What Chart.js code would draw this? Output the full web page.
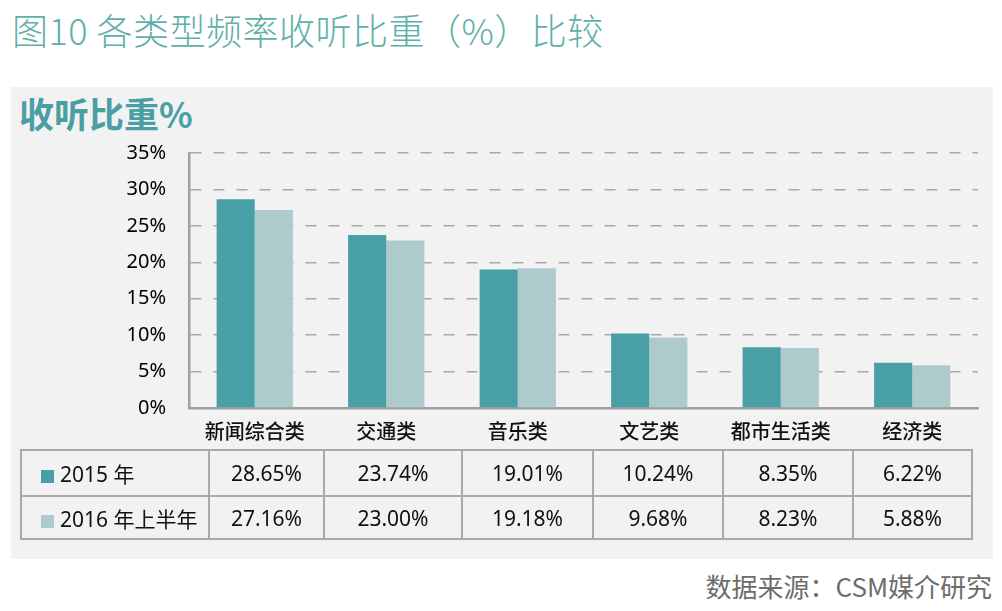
<!DOCTYPE html>
<html>
<head>
<meta charset="utf-8">
<script src="https://cdn.jsdelivr.net/npm/chart.js@4"></script>
<style>
  body { margin: 0; width: 1002px; height: 611px; background: #fff; position: relative; overflow: hidden;
         font-family: "Noto Sans", "Noto Sans CJK SC", sans-serif; }
  .title { position: absolute; left: 12px; top: 3px; font-size: 36px; font-weight: 300; color: #5fb0a8;
           font-family: "Noto Sans CJK SC", sans-serif; white-space: nowrap; letter-spacing: 0.5px; }
  .panel { position: absolute; left: 11px; top: 87px; width: 982px; height: 472px; background: #f2f2f2; }
  .ylabel { position: absolute; left: 19px; top: 87px; font-size: 35px; font-weight: 700; color: #4a9fa5;
            font-family: "Noto Sans CJK SC", sans-serif; white-space: nowrap; }
  #wrap { position: absolute; left: 0; top: 0; width: 1002px; height: 450px; }
  table { position: absolute; left: 20px; top: 449px; width: 951px; border-collapse: collapse; table-layout: fixed;
          font-size: 21px; color: #111; }
  td { border: 2.5px solid #a9a9a9; text-align: center; padding: 0; white-space: nowrap; }
  tr.r1 td { height: 44px; }
  tr.r2 td { height: 41px; }
  td.leg { text-align: left; padding-left: 19px; }
  .sw { display: inline-block; width: 13px; height: 13px; margin-right: 6px; vertical-align: -1px; }
  .source { position: absolute; right: 10px; top: 567px; font-size: 26px; color: #6d6d6d;
            font-family: "Noto Sans CJK SC", sans-serif; white-space: nowrap; }
</style>
</head>
<body>
<div class="title">图10 各类型频率收听比重（%）比较</div>
<div class="panel"></div>
<div class="ylabel">收听比重%</div>
<div id="wrap"><canvas id="myChart" width="1002" height="450"></canvas></div>
<table id="dataTable"></table>
<div class="source">数据来源：CSM媒介研究</div>

<script>
const categories = ["新闻综合类", "交通类", "音乐类", "文艺类", "都市生活类", "经济类"];
const seriesNames = ["2015 年", "2016 年上半年"];
const values2015 = [28.65, 23.74, 19.01, 10.24, 8.35, 6.22];
const values2016h1 = [27.16, 23.00, 19.18, 9.68, 8.23, 5.88];
const yTicks = [0, 5, 10, 15, 20, 25, 30, 35];

const colors = ["#48a0a6", "#adcacc"];
const colWidths = [188, 115, 138, 131, 130, 130, 119];

// data table under the chart
const table = document.getElementById("dataTable");
const colgroup = document.createElement("colgroup");
colWidths.forEach(w => {
  const col = document.createElement("col");
  col.style.width = w + "px";
  colgroup.appendChild(col);
});
table.appendChild(colgroup);

[values2015, values2016h1].forEach((vals, i) => {
  const tr = document.createElement("tr");
  tr.className = "r" + (i + 1);
  const lead = document.createElement("td");
  lead.className = "leg";
  lead.innerHTML = `<span class="sw" style="background:${colors[i]}"></span>${seriesNames[i]}`;
  tr.appendChild(lead);
  vals.forEach(v => {
    const td = document.createElement("td");
    td.textContent = v.toFixed(2) + "%";
    tr.appendChild(td);
  });
  table.appendChild(tr);
});

/*        *****chart*****       */
const ctx = document.getElementById("myChart").getContext("2d");

const myChart = new Chart(ctx, {
  type: "bar",
  data: {
    labels: categories,
    datasets: [
      { label: seriesNames[0], data: values2015, backgroundColor: colors[0] },
      { label: seriesNames[1], data: values2016h1, backgroundColor: colors[1] }
    ]
  },
  options: {
    responsive: false,
    animation: false,
    categoryPercentage: 0.58,
    barPercentage: 1.0,
    layout: { padding: { top: 153, right: 24, left: 0, bottom: 0 } },
    plugins: { legend: { display: false }, tooltip: { enabled: false } },
    scales: {
      x: {
        grid: { display: false, drawTicks: false },
        border: { color: "#a0a0a0", width: 2.5 },
        ticks: {
          color: "#111",
          padding: 11,
          font: { family: "'Noto Sans CJK SC'", size: 20, weight: 500 }
        },
        afterFit: scale => { scale.height = 42; }
      },
      y: {
        min: 0,
        max: 35,
        afterBuildTicks: scale => { scale.ticks = yTicks.map(v => ({ value: v })); },
        grid: { color: "#a9a9a9", lineWidth: 1.5, drawTicks: false },
        border: { color: "#a0a0a0", width: 2.5, dash: [11, 12] },
        ticks: {
          color: "#000",
          padding: 23,
          font: { family: "'Noto Sans'", size: 20 },
          callback: v => v + "%"
        },
        afterFit: scale => { scale.width = 189; }
      }
    }
  }
});
</script>
</body>
</html>
